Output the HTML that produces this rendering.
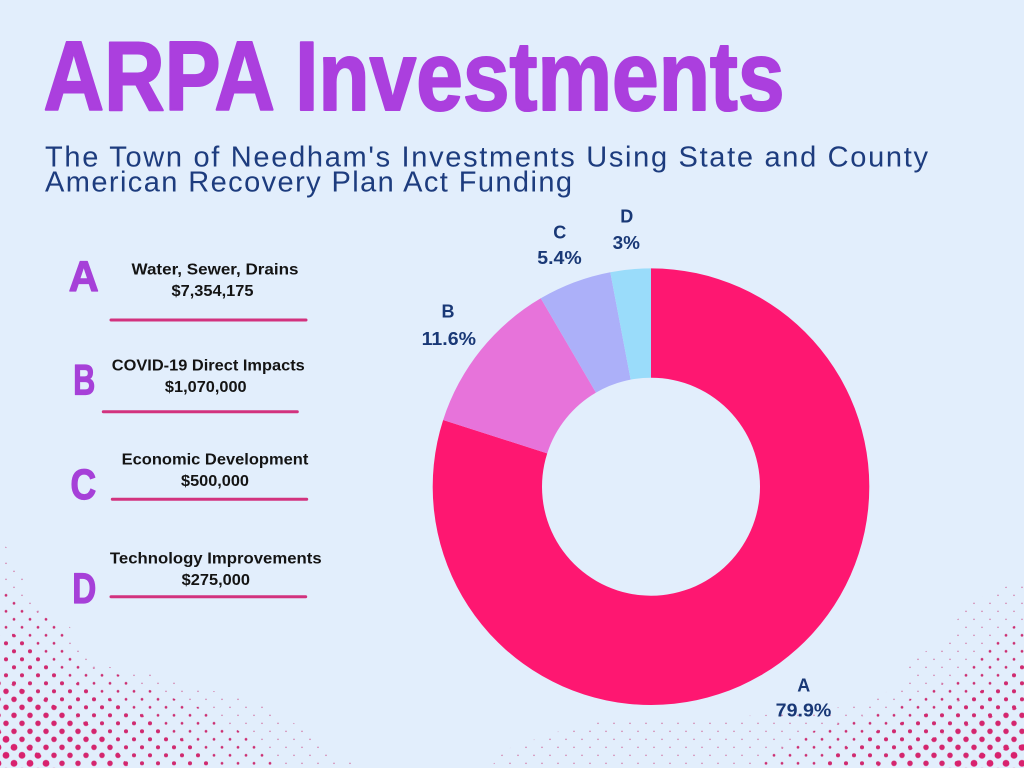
<!DOCTYPE html>
<html>
<head>
<meta charset="utf-8">
<style>
  html, body { margin: 0; padding: 0; background: #E2EEFC; }
  svg { display: block; }
  text { font-family: "Liberation Sans", Arial, sans-serif; }
</style>
</head>
<body>
<svg width="1024" height="768" viewBox="0 0 1024 768" xmlns="http://www.w3.org/2000/svg">
  <defs>
    <pattern id="p0" x="2" y="-0.7" width="16" height="16" patternUnits="userSpaceOnUse">
      <circle cx="4" cy="4" r="0.6" fill="#C93A78"/><circle cx="12" cy="12" r="0.6" fill="#C93A78"/>
    </pattern>
    <pattern id="p1" x="2" y="-0.7" width="16" height="16" patternUnits="userSpaceOnUse">
      <circle cx="4" cy="4" r="1.35" fill="#CC2F72"/><circle cx="12" cy="12" r="1.35" fill="#CC2F72"/>
    </pattern>
    <pattern id="p2" x="2" y="-0.7" width="16" height="16" patternUnits="userSpaceOnUse">
      <circle cx="4" cy="4" r="2.05" fill="#D02A6F"/><circle cx="12" cy="12" r="2.05" fill="#D02A6F"/>
    </pattern>
    <pattern id="p3" x="2" y="-0.7" width="16" height="16" patternUnits="userSpaceOnUse">
      <circle cx="4" cy="4" r="2.75" fill="#D4266E"/><circle cx="12" cy="12" r="2.75" fill="#D4266E"/>
    </pattern>
    <pattern id="p4" x="2" y="-0.7" width="16" height="16" patternUnits="userSpaceOnUse">
      <circle cx="4" cy="4" r="3.4" fill="#D8226E"/><circle cx="12" cy="12" r="3.4" fill="#D8226E"/>
    </pattern>
  </defs>

  <!-- background -->
  <rect x="0" y="0" width="1024" height="768" fill="#E2EEFC"/>

  <!-- halftone bottom-left -->
  <polygon fill="url(#p0)" points="0,540 5,545 18,568 33,600 70,627 75,643 85,658 110,667 157,675 210,690 275,708 300,728 325,748 360,768 0,768"/>
  <polygon fill="url(#p1)" points="0,575 20,600 60,627 68,643 75,658 90,667 120,675 150,690 200,708 235,728 260,748 285,768 0,768"/>
  <polygon fill="url(#p2)" points="0,627 30,643 45,658 60,675 90,690 130,708 165,728 195,748 220,768 0,768"/>
  <polygon fill="url(#p3)" points="0,679 25,690 60,708 95,728 115,748 130,768 0,768"/>
  <polygon fill="url(#p4)" points="0,731 30,748 60,768 0,768"/>

  <!-- halftone bottom-right -->
  <polygon fill="url(#p0)" points="1024,585 1011,585 987,593 962,610 954,627 937,643 914,660 904,675 889,691 864,700 841,707 800,713 744,716 600,722 560,731 533,740 510,748 500,756 490,768 1024,768"/>
  <polygon fill="url(#p1)" points="1024,621 1012,627 969,660 944,683 894,707 814,731 754,763 750,768 1024,768"/>
  <polygon fill="url(#p2)" points="1024,662 999,683 944,707 877,731 819,763 815,768 1024,768"/>
  <polygon fill="url(#p3)" points="1024,703 1019,707 949,731 879,763 876,768 1024,768"/>
  <polygon fill="url(#p4)" points="1024,744 949,763 945,768 1024,768"/>

  <!-- title -->
  <text x="43.5" y="110" font-size="98" font-weight="bold" fill="#AB3FDE" stroke="#AB3FDE" stroke-width="2" stroke-linejoin="round" textLength="741" lengthAdjust="spacingAndGlyphs">ARPA Investments</text>

  <!-- subtitle -->
  <text x="45" y="166.7" font-size="29" fill="#1D3C7E" textLength="883" lengthAdjust="spacing">The Town of Needham's Investments Using State and County</text>
  <text x="45" y="191.7" font-size="29" fill="#1D3C7E" textLength="527" lengthAdjust="spacing">American Recovery Plan Act Funding</text>

  <!-- legend letters -->
  <g font-weight="bold" fill="#A640D8" stroke="#A640D8" stroke-width="1.2" stroke-linejoin="round" font-size="42.5">
    <text x="68.8" y="291.2" textLength="30" lengthAdjust="spacingAndGlyphs">A</text>
    <text x="73.2" y="394.5" textLength="22" lengthAdjust="spacingAndGlyphs">B</text>
    <text x="70.5" y="499" textLength="25.7" lengthAdjust="spacingAndGlyphs">C</text>
    <text x="72.2" y="602.8" textLength="24" lengthAdjust="spacingAndGlyphs">D</text>
  </g>

  <!-- legend texts -->
  <g font-weight="bold" fill="#141414" text-anchor="middle">
    <text x="215" y="274.5" font-size="16" textLength="167" lengthAdjust="spacingAndGlyphs">Water, Sewer, Drains</text>
    <text x="212.5" y="296" font-size="15.5" textLength="82" lengthAdjust="spacingAndGlyphs">$7,354,175</text>

    <text x="208.3" y="370.7" font-size="16" textLength="193" lengthAdjust="spacingAndGlyphs">COVID-19 Direct Impacts</text>
    <text x="205.8" y="392" font-size="15.5" textLength="81.7" lengthAdjust="spacingAndGlyphs">$1,070,000</text>

    <text x="215" y="464.3" font-size="16" textLength="186.7" lengthAdjust="spacingAndGlyphs">Economic Development</text>
    <text x="215" y="486" font-size="15.5" textLength="68" lengthAdjust="spacingAndGlyphs">$500,000</text>

    <text x="215.8" y="563.3" font-size="16" textLength="211.7" lengthAdjust="spacingAndGlyphs">Technology Improvements</text>
    <text x="215.8" y="585" font-size="15.5" textLength="68.3" lengthAdjust="spacingAndGlyphs">$275,000</text>
  </g>

  <!-- legend underlines -->
  <g stroke="#D2327E" stroke-width="3" stroke-linecap="round">
    <line x1="111" y1="320" x2="306" y2="320"/>
    <line x1="103.3" y1="411.7" x2="297.3" y2="411.7"/>
    <line x1="112.3" y1="499.3" x2="306.7" y2="499.3"/>
    <line x1="111" y1="596.7" x2="305.7" y2="596.7"/>
  </g>

  <!-- donut -->
  <path fill="#FE1771" d="M 651 268.4 A 218.3 218.3 0 1 1 443.15 419.96 L 547.22 453.38 A 109 109 0 1 0 651 377.7 Z"/>
  <path fill="#E773DA" d="M 443.15 419.96 A 218.3 218.3 0 0 1 540.76 298.28 L 595.95 392.62 A 109 109 0 0 0 547.22 453.38 Z"/>
  <path fill="#ACB0F9" d="M 540.76 298.28 A 218.3 218.3 0 0 1 610.29 272.22 L 630.67 379.61 A 109 109 0 0 0 595.95 392.62 Z"/>
  <path fill="#9ADCFA" d="M 610.29 272.22 A 218.3 218.3 0 0 1 651 268.4 L 651 377.7 A 109 109 0 0 0 630.67 379.61 Z"/>

  <!-- donut labels -->
  <g font-weight="bold" fill="#193876" text-anchor="middle" font-size="18">
    <text x="626.7" y="222.3">D</text>
    <text x="626.3" y="249" textLength="27.3" lengthAdjust="spacingAndGlyphs">3%</text>

    <text x="559.7" y="238.3">C</text>
    <text x="559.5" y="264" textLength="44.4" lengthAdjust="spacingAndGlyphs">5.4%</text>

    <text x="448" y="317.7">B</text>
    <text x="448.8" y="345" textLength="54.3" lengthAdjust="spacingAndGlyphs">11.6%</text>

    <text x="803.7" y="691.7">A</text>
    <text x="803.5" y="716.7" textLength="55.6" lengthAdjust="spacingAndGlyphs">79.9%</text>
  </g>
</svg>
</body>
</html>
